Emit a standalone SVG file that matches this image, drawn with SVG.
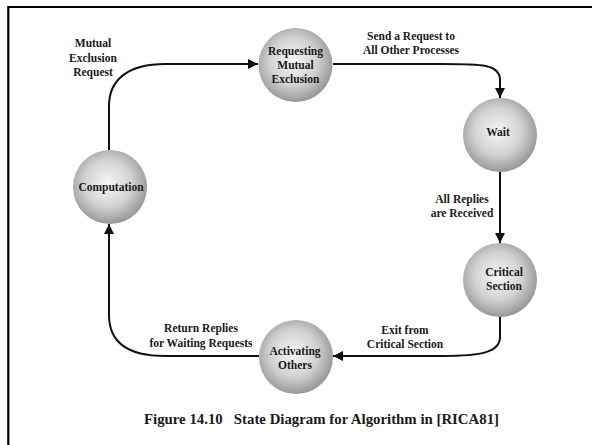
<svg xmlns="http://www.w3.org/2000/svg" width="592" height="445" viewBox="0 0 592 445">
<defs>
<radialGradient id="ball" cx="47%" cy="45%" r="58%">
<stop offset="0" stop-color="#f6f6f6"/>
<stop offset="0.55" stop-color="#d2d2d2"/>
<stop offset="1" stop-color="#909090"/>
</radialGradient>
<marker id="arr" viewBox="0 0 10 10" refX="10" refY="5" markerWidth="10" markerHeight="10" markerUnits="userSpaceOnUse" orient="auto">
<path d="M0,0 L10,5 L0,10 Z" fill="#111"/>
</marker>
</defs>
<style>
.node circle{fill:url(#ball);stroke:none}
.t{font-family:"Liberation Serif","Times New Roman",serif;font-weight:bold;font-size:11.5px;fill:#1a1a1a;text-anchor:middle}
.cap{font-family:"Liberation Serif","Times New Roman",serif;font-weight:bold;font-size:14px;fill:#1a1a1a}
.conn path{fill:none;stroke:#111;stroke-width:2}
.frame{stroke:#000;stroke-width:2.2;fill:none}
</style>
<rect width="592" height="445" fill="#fff"/>
<path class="frame" d="M8.3,445 V7 H592"/>

<g id="connectors" class="conn">
<path d="M109,150 V106 C109,79 129,64 165,64 H258" marker-end="url(#arr)"/>
<path d="M333,64 H440 C482,64 500,64 500,80 V98" marker-end="url(#arr)"/>
<path d="M500,172 V243" marker-end="url(#arr)"/>
<path d="M500,317 V337 C500,352 482,356 442,356 H333" marker-end="url(#arr)"/>
<path d="M259,356 H165 C128,356 109,342 109,315 V224" marker-end="url(#arr)"/>
</g>

<g id="requesting" class="node">
<circle cx="295.5" cy="65" r="37"/>
<text class="t" x="295.5" y="55">Requesting</text>
<text class="t" x="295.5" y="69">Mutual</text>
<text class="t" x="295.5" y="83">Exclusion</text>
</g>
<g id="wait" class="node">
<circle cx="500" cy="135" r="37"/>
<text class="t" x="498" y="136">Wait</text>
</g>
<g id="critical" class="node">
<circle cx="500" cy="280" r="37"/>
<text class="t" x="504" y="276">Critical</text>
<text class="t" x="504" y="289.5">Section</text>
</g>
<g id="activating" class="node">
<circle cx="296" cy="357" r="37"/>
<text class="t" x="295" y="355">Activating</text>
<text class="t" x="295" y="368.5">Others</text>
</g>
<g id="computation" class="node">
<circle cx="110" cy="187" r="37"/>
<text class="t" x="111" y="191">Computation</text>
</g>

<g id="labels">
<text class="t" x="93" y="47">Mutual</text>
<text class="t" x="93" y="61.5">Exclusion</text>
<text class="t" x="93" y="75.5">Request</text>
<text class="t" x="411" y="40">Send a Request to</text>
<text class="t" x="411" y="54.3">All Other Processes</text>
<text class="t" x="462" y="203.3">All Replies</text>
<text class="t" x="462" y="216.7">are Received</text>
<text class="t" x="201" y="332">Return Replies</text>
<text class="t" x="201" y="346.5">for Waiting Requests</text>
<text class="t" x="405" y="334">Exit from</text>
<text class="t" x="405" y="347.5">Critical Section</text>
</g>
<text class="cap" x="144" y="423.5" xml:space="preserve" textLength="355" lengthAdjust="spacingAndGlyphs">Figure 14.10   State Diagram for Algorithm in [RICA81]</text>
</svg>
